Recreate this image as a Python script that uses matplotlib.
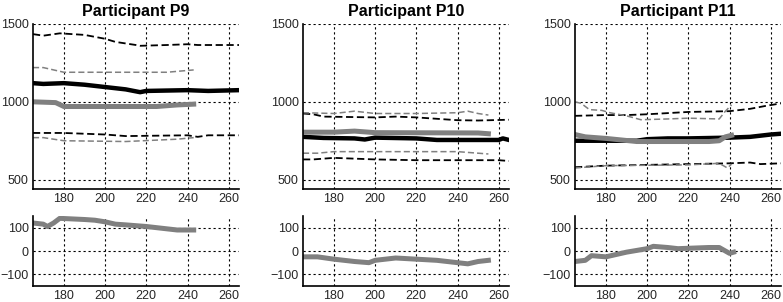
import numpy as np
import matplotlib
matplotlib.use('Agg')
import matplotlib.pyplot as plt

plt.rcParams['font.family'] = ['Liberation Sans', 'DejaVu Sans']

titles = ['Participant P9', 'Participant P10', 'Participant P11']
x_ticks = [180, 200, 220, 240, 260]
top_yticks = [500, 1000, 1500]
bot_yticks = [-100, 0, 100]

# --- P9 ---
p9_bdu_x = [165, 170, 178, 190, 200, 205, 215, 217, 230, 240, 245, 265]
p9_bdu_y = [1435, 1425, 1440, 1430, 1405, 1385, 1365, 1360, 1365, 1370, 1365, 1365]
p9_gdu_x = [165, 170, 180, 200, 230, 243]
p9_gdu_y = [1220, 1220, 1190, 1190, 1190, 1205]
p9_bk_x = [165, 170, 180, 190, 200, 210, 217, 220, 240, 250, 265]
p9_bk_y = [1120, 1115, 1120, 1110, 1095, 1080, 1062, 1070, 1075, 1070, 1075]
p9_gy_x = [165, 176, 180, 200, 225, 235, 243]
p9_gy_y = [1000, 995, 970, 970, 970, 980, 985]
p9_bdl_x = [165, 180, 200, 210, 240, 245, 250, 265]
p9_bdl_y = [800, 800, 790, 780, 785, 775, 785, 785]
p9_gdl_x = [165, 170, 180, 210, 235, 243]
p9_gdl_y = [770, 770, 750, 745, 760, 770]
p9_d_x = [165, 170, 172, 175, 178, 190, 195, 200, 205, 210, 220, 230, 235, 243]
p9_d_y = [120, 115, 105, 120, 140, 135, 132, 125, 115, 112, 105, 95, 90, 90]

# --- P10 ---
p10_bdu_x = [165, 170, 175, 200, 210, 220, 240, 250, 265]
p10_bdu_y = [925, 920, 905, 900, 905, 900, 882, 880, 885]
p10_gdu_x = [165, 180, 190, 200, 220, 240, 245, 250, 255]
p10_gdu_y = [930, 925, 940, 925, 925, 930, 940, 925, 915]
p10_bk_x = [165, 175, 190, 195, 200, 220, 230, 260, 262, 265]
p10_bk_y = [775, 768, 765, 758, 770, 765, 755, 755, 765, 755]
p10_gy_x = [165, 180, 190, 200, 250, 255]
p10_gy_y = [805, 805, 812, 802, 800, 795]
p10_bdl_x = [165, 170, 180, 200, 220, 260, 265]
p10_bdl_y = [630, 630, 640, 630, 625, 625, 620]
p10_gdl_x = [165, 172, 180, 200, 240, 250, 255]
p10_gdl_y = [670, 670, 680, 680, 680, 670, 665]
p10_d_x = [165, 172, 180, 190, 197, 200, 210, 220, 230, 240, 245, 250, 255]
p10_d_y = [-25, -25, -35, -45, -50, -40, -30, -35, -40, -50, -55, -45, -40]

# --- P11 ---
p11_bdu_x = [165, 180, 190, 200, 220, 240, 250, 258, 265]
p11_bdu_y = [910, 915, 915, 920, 935, 940, 955, 975, 990]
p11_gdu_x = [165, 168, 172, 178, 182, 190, 197, 210, 220, 235, 238, 241]
p11_gdu_y = [1000, 990, 950, 945, 930, 910, 885, 890, 895, 890, 940, 980]
p11_bk_x = [165, 195, 200, 210, 220, 240, 250, 260, 265]
p11_bk_y = [750, 750, 760, 765, 765, 770, 775, 790, 795]
p11_gy_x = [165, 170, 180, 195, 230, 235, 238, 241]
p11_gy_y = [790, 775, 765, 745, 745, 750, 775, 785]
p11_bdl_x = [165, 180, 220, 240, 250, 255, 265]
p11_bdl_y = [580, 590, 600, 605, 610, 600, 605]
p11_gdl_x = [165, 180, 220, 235, 239, 241]
p11_gdl_y = [575, 590, 595, 605, 575, 600]
p11_d_x = [165, 170, 173, 180, 185, 190, 200, 203, 210, 215, 230, 235, 240, 242]
p11_d_y = [-45, -40, -20, -25, -15, -5, 10, 20, 15, 10, 15, 15, -10, -5]

panels = [
    (p9_bdu_x, p9_bdu_y, p9_gdu_x, p9_gdu_y, p9_bk_x, p9_bk_y, p9_gy_x, p9_gy_y,
     p9_bdl_x, p9_bdl_y, p9_gdl_x, p9_gdl_y, p9_d_x, p9_d_y),
    (p10_bdu_x, p10_bdu_y, p10_gdu_x, p10_gdu_y, p10_bk_x, p10_bk_y, p10_gy_x, p10_gy_y,
     p10_bdl_x, p10_bdl_y, p10_gdl_x, p10_gdl_y, p10_d_x, p10_d_y),
    (p11_bdu_x, p11_bdu_y, p11_gdu_x, p11_gdu_y, p11_bk_x, p11_bk_y, p11_gy_x, p11_gy_y,
     p11_bdl_x, p11_bdl_y, p11_gdl_x, p11_gdl_y, p11_d_x, p11_d_y),
]

W, H = 783, 302
fig = plt.figure(figsize=(W / 100, H / 100), dpi=100)

lefts = [33, 303, 575]
width = 206
gray = '#808080'


def style(ax, ylim, yticks):
    ax.set_xlim(165, 265)
    ax.set_ylim(*ylim)
    ax.set_xticks(x_ticks)
    ax.set_yticks(yticks)
    ax.spines['top'].set_visible(False)
    ax.spines['right'].set_visible(False)
    ax.spines['left'].set_linewidth(1.2)
    ax.spines['bottom'].set_linewidth(1.2)
    ax.grid(True, color='black', linestyle=(0, (2, 2.5)), linewidth=0.8)
    ax.set_axisbelow(True)
    ax.tick_params(direction='in', length=0, labelsize=9, labelcolor='#262626', pad=3)


for i, p in enumerate(panels):
    bdu_x, bdu_y, gdu_x, gdu_y, bk_x, bk_y, gy_x, gy_y, bdl_x, bdl_y, gdl_x, gdl_y, d_x, d_y = p
    ax = fig.add_axes([lefts[i] / W, (H - 189) / H, width / W, 165 / H])
    ax.plot(bdu_x, bdu_y, color='black', linestyle=(0, (4, 2)), linewidth=1.3)
    ax.plot(bdl_x, bdl_y, color='black', linestyle=(0, (4, 2)), linewidth=1.3)
    ax.plot(gdu_x, gdu_y, color=gray, linestyle=(0, (4, 2)), linewidth=1.1)
    ax.plot(gdl_x, gdl_y, color=gray, linestyle=(0, (4, 2)), linewidth=1.1)
    ax.plot(bk_x, bk_y, color='black', linewidth=3.2)
    ax.plot(gy_x, gy_y, color=gray, linewidth=3.6)
    style(ax, (440, 1500), top_yticks)
    ax.set_title(titles[i], fontsize=11.5, fontweight='bold', pad=6)

    ax2 = fig.add_axes([lefts[i] / W, (H - 286) / H, width / W, 70 / H])
    ax2.plot(d_x, d_y, color=gray, linewidth=3.6)
    style(ax2, (-150, 150), bot_yticks)

fig.savefig('out.png', dpi=100)
